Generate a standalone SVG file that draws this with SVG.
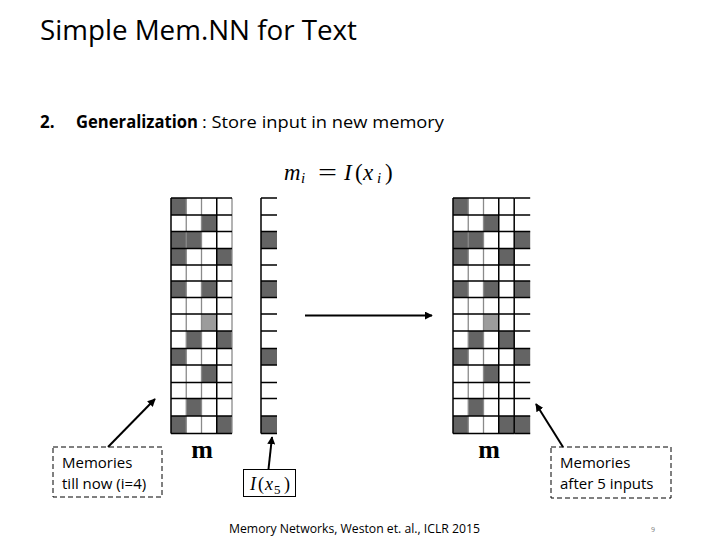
<svg xmlns="http://www.w3.org/2000/svg" xmlns:xlink="http://www.w3.org/1999/xlink" width="720" height="540" viewBox="0 0 720 540">
<style>
.sans{font-family:"Open Sans","Liberation Sans",sans-serif;fill:#000}
.serif{font-family:"Liberation Serif","DejaVu Serif",serif;fill:#000}
.dk{fill:#646464}
.lt{fill:#9c9c9c}
.hl{stroke:#000;stroke-width:1.5}
.vb{stroke:#000;stroke-width:1.5}
.vg{stroke:#8a8a8a;stroke-width:1.3}
.conn{stroke:#000;stroke-width:2;fill:none}
.box{fill:#fff;stroke:#000;stroke-width:1;stroke-dasharray:5,3}
</style>
<defs>
<marker id="ah" viewBox="0 0 10 10" refX="9" refY="5" markerWidth="4" markerHeight="4" orient="auto" markerUnits="strokeWidth">
<path d="M0,0 L10,5 L0,10 z" fill="#000"/>
</marker>
<g id="cells4">
<rect class="dk" x="0" y="198" width="15.25" height="17"/>
<rect class="dk" x="30.5" y="215" width="15.25" height="16.5"/>
<rect class="dk" x="0" y="231.5" width="30.5" height="17"/>
<rect class="dk" x="0" y="248.5" width="15.25" height="16.5"/>
<rect class="dk" x="45.75" y="248.5" width="15.25" height="16.5"/>
<rect class="dk" x="0" y="281" width="15.25" height="16.5"/>
<rect class="dk" x="30.5" y="281" width="15.25" height="16.5"/>
<rect class="lt" x="30.5" y="314" width="15.25" height="17"/>
<rect class="dk" x="15.25" y="331" width="15.25" height="17.5"/>
<rect class="dk" x="45.75" y="331" width="15.25" height="17.5"/>
<rect class="dk" x="0" y="348.5" width="15.25" height="16.5"/>
<rect class="dk" x="30.5" y="365" width="15.25" height="17.5"/>
<rect class="dk" x="15.25" y="398.5" width="15.25" height="17.5"/>
<rect class="dk" x="0" y="416" width="15.25" height="17.5"/>
<rect class="dk" x="45.75" y="416" width="15.25" height="17.5"/>
<line class="vb" x1="0" y1="198" x2="0" y2="433.5"/>
<line class="vg" x1="15.25" y1="198" x2="15.25" y2="433.5"/>
<line class="vg" x1="30.5" y1="198" x2="30.5" y2="433.5"/>
<line class="vb" x1="45.75" y1="198" x2="45.75" y2="433.5"/>
</g>
<g id="rows">
<path class="hl" d="M0,198H61M0,215H61M0,231.5H61M0,248.5H61M0,265H61M0,281H61M0,297.5H61M0,314H61M0,331H61M0,348.5H61M0,365H61M0,382.5H61M0,398.5H61M0,416H61M0,433.5H61"/>
</g>
<g id="col1">
<rect class="dk" x="0" y="231.5" width="16" height="17"/>
<rect class="dk" x="0" y="281" width="16" height="16.5"/>
<rect class="dk" x="0" y="348.5" width="16" height="16.5"/>
<rect class="dk" x="0" y="416" width="16" height="17.5"/>
<path class="hl" d="M0,198H16M0,215H16M0,231.5H16M0,248.5H16M0,265H16M0,281H16M0,297.5H16M0,314H16M0,331H16M0,348.5H16M0,365H16M0,382.5H16M0,398.5H16M0,416H16M0,433.5H16"/>
<line class="vb" x1="0" y1="198" x2="0" y2="433.5"/>
</g>
</defs>

<text class="sans" x="40" y="40" font-size="28" textLength="317" lengthAdjust="spacingAndGlyphs">Simple Mem.NN for Text</text>
<text class="sans" x="40" y="128" font-size="17" font-weight="bold">2.</text>
<text class="sans" x="76" y="128" font-size="17" font-weight="bold" textLength="122" lengthAdjust="spacingAndGlyphs">Generalization</text>
<text class="sans" x="202" y="128" font-size="17" textLength="242" lengthAdjust="spacingAndGlyphs">: Store input in new memory</text>

<g id="formula">
<text class="serif" x="284" y="179.5" font-size="23" font-style="italic" textLength="16.5" lengthAdjust="spacingAndGlyphs">m</text>
<text class="serif" x="301" y="183" font-size="15" font-style="italic">i</text>
<text class="serif" x="318" y="180" font-size="24" textLength="19" lengthAdjust="spacingAndGlyphs">=</text>
<text class="serif" x="344" y="179.5" font-size="23" font-style="italic">I</text>
<text class="serif" x="355" y="179.5" font-size="23">(</text>
<text class="serif" x="363" y="179.5" font-size="23" font-style="italic">x</text>
<text class="serif" x="377" y="183" font-size="15" font-style="italic">i</text>
<text class="serif" x="385" y="179.5" font-size="23">)</text>
</g>

<g id="memory-before">
<use xlink:href="#cells4" x="171"/>
<line class="vg" x1="232" y1="198" x2="232" y2="433.5"/>
<use xlink:href="#rows" x="171"/>
<text class="serif" x="202" y="458" font-size="26" font-weight="bold" text-anchor="middle">m</text>
</g>

<g id="new-input">
<use xlink:href="#col1" x="261"/>
</g>

<g id="memory-after">
<use xlink:href="#cells4" x="453"/>
<use xlink:href="#rows" x="453"/>
<use xlink:href="#col1" x="514.2"/>
<text class="serif" x="489" y="458" font-size="26" font-weight="bold" text-anchor="middle">m</text>
</g>

<g id="label-before">
<rect class="box" x="53" y="447" width="109" height="50"/>
<text class="sans" x="62" y="468" font-size="15">Memories</text>
<text class="sans" x="62" y="489" font-size="15">till now (i=4)</text>
</g>

<g id="label-input">
<rect x="243.5" y="469.5" width="52" height="27" fill="#fff" stroke="#000" stroke-width="1"/>
<text class="serif" y="490" font-size="18"><tspan x="250" font-style="italic">I</tspan><tspan x="258">(</tspan><tspan x="265" font-style="italic">x</tspan><tspan x="274" y="494" font-size="13">5</tspan><tspan x="284" y="490">)</tspan></text>
</g>

<g id="label-after">
<rect class="box" x="551" y="447" width="120" height="51"/>
<text class="sans" x="560" y="468" font-size="15">Memories</text>
<text class="sans" x="560" y="489" font-size="15">after 5 inputs</text>
</g>

<g id="connectors">
<line class="conn" x1="305" y1="315.5" x2="432" y2="315.5" marker-end="url(#ah)"/>
<line class="conn" x1="108" y1="447" x2="155" y2="399" marker-end="url(#ah)"/>
<line class="conn" x1="268.5" y1="469" x2="272" y2="437" marker-end="url(#ah)"/>
<line class="conn" x1="563" y1="447" x2="536" y2="404" marker-end="url(#ah)"/>
</g>

<text class="sans" x="229" y="533" font-size="13" textLength="251" lengthAdjust="spacingAndGlyphs">Memory Networks, Weston et. al., ICLR 2015</text>
<text class="sans" x="651" y="532" font-size="7" style="fill:#777">9</text>
</svg>
